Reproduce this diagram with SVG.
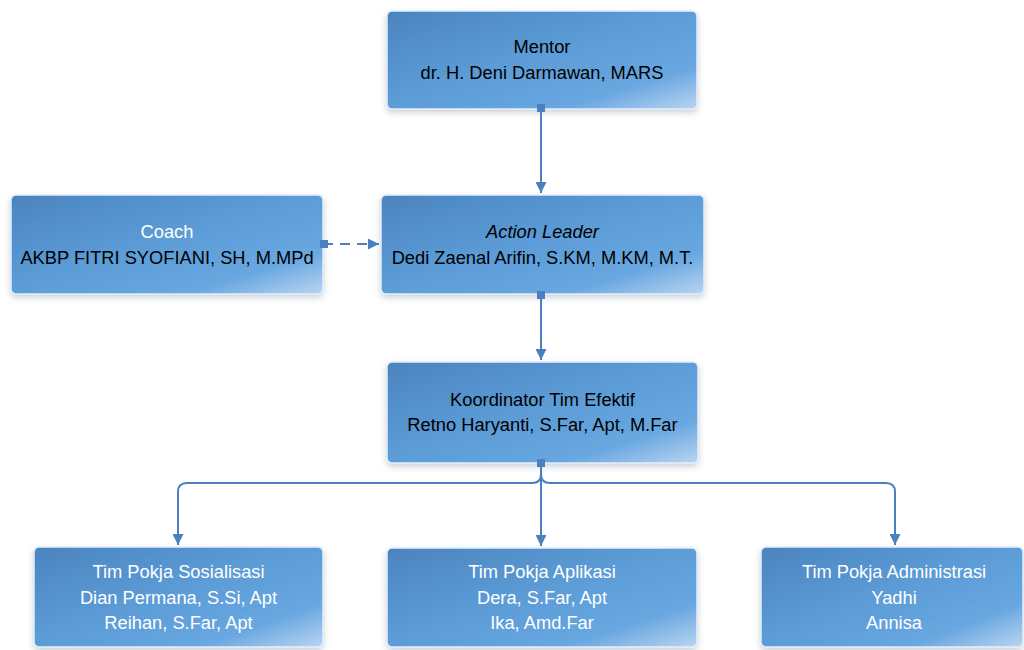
<svg xmlns="http://www.w3.org/2000/svg" width="1024" height="650" viewBox="0 0 1024 650">
<defs>
<linearGradient id="bg" x1="0" y1="0" x2="1" y2="1">
<stop offset="0" stop-color="#4b84bf"/>
<stop offset="0.45" stop-color="#5b9bd6"/>
<stop offset="0.78" stop-color="#68a7e0"/>
<stop offset="1" stop-color="#bad5f1"/>
</linearGradient>
<filter id="sh" x="-10%" y="-10%" width="120%" height="130%">
<feDropShadow dx="0" dy="3" stdDeviation="3" flood-color="#8a9aab" flood-opacity="0.45"/>
</filter>
<marker id="arr" viewBox="0 0 10 10" refX="10" refY="5" markerWidth="5.5" markerHeight="5.5" orient="auto" markerUnits="strokeWidth">
<path d="M0,0 L10,5 L0,10 Z" fill="#4a80c0"/>
</marker>
</defs>
<style>
.box{fill:url(#bg);stroke:#e3eefa;stroke-width:1.5;filter:url(#sh)}
.t{font-family:"Liberation Sans",Arial,sans-serif;font-size:18.3px;text-anchor:middle}
.k{fill:#000}
.w{fill:#fff}
.c{fill:none;stroke:#4a80c0;stroke-width:2}
.sq{fill:#4a80c0}
</style>
<rect width="1024" height="650" fill="#fff"/>
<g id="mentor">
<rect class="box" x="387" y="11" width="310" height="98" rx="5"/>
<text class="t k" x="542" y="53">Mentor</text>
<text class="t k" x="542" y="79">dr. H. Deni Darmawan, MARS</text>
</g>
<g id="coach">
<rect class="box" x="11" y="195" width="312" height="99" rx="5"/>
<text class="t w" x="167" y="238">Coach</text>
<text class="t k" x="167" y="264">AKBP FITRI SYOFIANI, SH, M.MPd</text>
</g>
<g id="action-leader">
<rect class="box" x="381" y="195" width="323" height="99" rx="5"/>
<text class="t k" x="542.5" y="238" font-style="italic">Action Leader</text>
<text class="t k" x="542.5" y="264">Dedi Zaenal Arifin, S.KM, M.KM, M.T.</text>
</g>
<g id="koordinator">
<rect class="box" x="387" y="362" width="311" height="101" rx="5"/>
<text class="t k" x="542.5" y="406">Koordinator Tim Efektif</text>
<text class="t k" x="542.5" y="431">Retno Haryanti, S.Far, Apt, M.Far</text>
</g>
<g id="pokja-sosialisasi">
<rect class="box" x="34" y="547" width="289" height="100" rx="5"/>
<text class="t w" x="178.5" y="578">Tim Pokja Sosialisasi</text>
<text class="t w" x="178.5" y="604">Dian Permana, S.Si, Apt</text>
<text class="t w" x="178.5" y="629">Reihan, S.Far, Apt</text>
</g>
<g id="pokja-aplikasi">
<rect class="box" x="387" y="548" width="310" height="99" rx="5"/>
<text class="t w" x="542" y="578">Tim Pokja Aplikasi</text>
<text class="t w" x="542" y="604">Dera, S.Far, Apt</text>
<text class="t w" x="542" y="629">Ika, Amd.Far</text>
</g>
<g id="pokja-administrasi">
<rect class="box" x="761" y="547" width="262" height="100" rx="5"/>
<text class="t w" x="894" y="578">Tim Pokja Administrasi</text>
<text class="t w" x="894" y="604">Yadhi</text>
<text class="t w" x="894" y="629">Annisa</text>
</g>
<g id="connectors">
<path class="c" d="M541,108 V193" marker-end="url(#arr)"/>
<rect class="sq" x="537" y="104" width="8" height="8"/>
<path class="c" d="M541,294 V360" marker-end="url(#arr)"/>
<rect class="sq" x="537" y="291" width="8" height="8"/>
<path class="c" d="M323,244 H379" stroke-dasharray="10,7" marker-end="url(#arr)"/>
<rect class="sq" x="320" y="240" width="8" height="8"/>
<path class="c" d="M541,463 V474 Q541,483 532,483 H187 Q178,483 178,492 V545" marker-end="url(#arr)"/>
<path class="c" d="M541,463 V474 Q541,483 550,483 H886 Q895,483 895,492 V545" marker-end="url(#arr)"/>
<path class="c" d="M541,463 V546" marker-end="url(#arr)"/>
<rect class="sq" x="537" y="459" width="8" height="8"/>
</g>
</svg>
